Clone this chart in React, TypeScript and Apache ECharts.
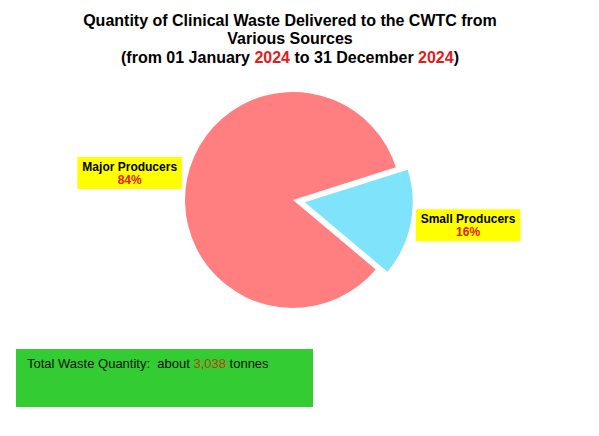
import React from "react";
import * as echarts from "echarts";

const categories = ["Major Producers", "Small Producers"];
const quantities = [2552, 486]; // tonnes, about 84% / 16%
const sliceColors = ["#ff7f80", "#80e3fc"];
const periodYear = "2024";

export default function App() {
  const ref = React.useRef<HTMLDivElement>(null);

  React.useEffect(() => {
    document.body.style.margin = "0";
    if (!ref.current) return;
    const c = echarts.init(ref.current, null, { renderer: "svg" });
    const total = quantities.reduce((a, b) => a + b, 0);
    const font = "Arial, 'Liberation Sans', sans-serif";
    c.setOption({
      animation: false,
      backgroundColor: "#fff",
      title: {
        text:
          "Quantity of Clinical Waste Delivered to the CWTC from\nVarious Sources\n" +
          `(from 01 January {r|${periodYear}} to 31 December {r|${periodYear}})`,
        left: 285,
        top: 6,
        textAlign: "center",
        textStyle: {
          fontFamily: font,
          fontSize: 16,
          fontWeight: "bold",
          color: "#000",
          lineHeight: 18.5,
          rich: {
            r: { fontFamily: font, fontSize: 16, fontWeight: "bold", color: "#e41a1c", lineHeight: 18.5 },
          },
        },
      },
      series: [
        {
          type: "pie",
          center: [293, 200],
          radius: 108,
          startAngle: -40,
          clockwise: true,
          selectedMode: "single",
          selectedOffset: 12,
          avoidLabelOverlap: false,
          itemStyle: { borderWidth: 0 },
          emphasis: { disabled: true },
          labelLine: { show: false, length: 0, length2: 0 },
          labelLayout: (p: any) => (p.dataIndex === 0 ? { dy: -6 } : { dy: 2 }),
          label: {
            position: "outside",
            distanceToLabelLine: 5,
            backgroundColor: "#ffff00",
            padding: [3, 5],
            formatter: (p: any) => `{n|${p.name}}\n{p|${Math.round(p.percent)}%}`,
            rich: {
              n: { fontFamily: font, fontSize: 12, fontWeight: "bold", color: "#000", lineHeight: 13, align: "center" },
              p: { fontFamily: font, fontSize: 12, fontWeight: "bold", color: "#e41a1c", lineHeight: 13, align: "center" },
            },
          },
          data: categories.map((name, i) => ({
            name,
            value: quantities[i],
            selected: i === 1,
            itemStyle: { color: sliceColors[i] },
          })),
        },
      ],
      graphic: [
        {
          type: "rect",
          left: 16,
          top: 349,
          shape: { width: 297, height: 58 },
          style: { fill: "#33cc33" },
        },
        {
          type: "text",
          left: 27,
          top: 357,
          style: {
            text: `{t|Total Waste Quantity:  about }{v|${total.toLocaleString("en-US")}}{t| tonnes}`,
            rich: {
              t: { fontFamily: font, fontSize: 13, fill: "#111" },
              v: { fontFamily: font, fontSize: 13, fill: "#c23a10" },
            },
          },
        },
      ],
    });
    return () => c.dispose();
  }, []);

  return <div ref={ref} style={{ width: 599, height: 436 }} />;
}
